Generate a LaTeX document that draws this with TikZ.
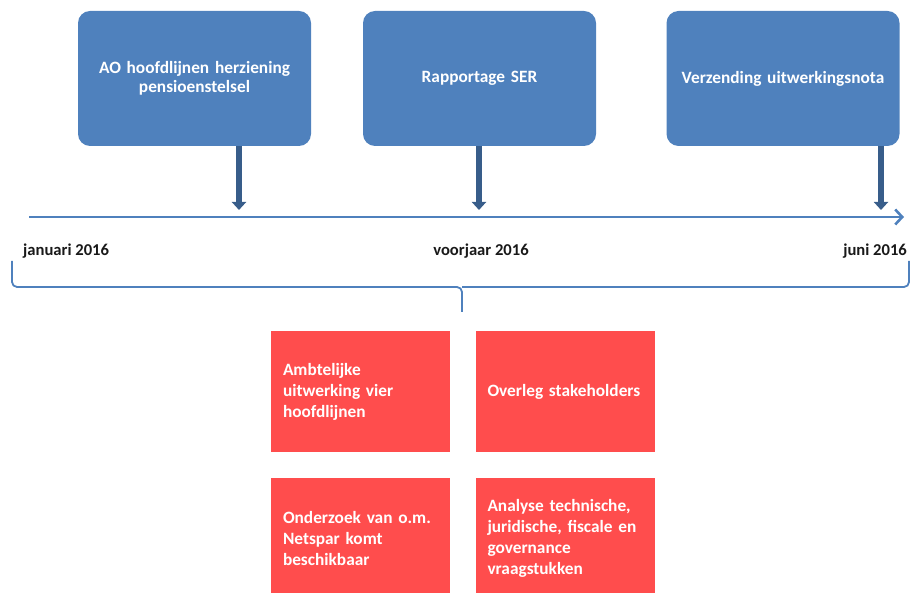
\documentclass[tikz,border=0pt]{standalone}
\usepackage{fontspec}
\setmainfont{Carlito}
\usetikzlibrary{arrows.meta}
\definecolor{blauw}{RGB}{79,129,189}
\definecolor{donkerblauw}{RGB}{56,93,138}
\definecolor{rood}{RGB}{255,77,77}
\begin{document}
\begin{tikzpicture}[x=1pt,y=-1pt,line join=round,font=\bfseries,
	mijlpaal/.style={fill=blauw,rounded corners=12pt,minimum width=233pt,minimum height=135pt,inner sep=0pt,text=white,align=center,text width=225pt,font=\fontsize{17.3}{19.5}\selectfont\bfseries},
	taak/.style={fill=rood,minimum height=121pt,inner xsep=12pt,inner ysep=0pt,text=white,align=left,text width=155pt,font=\fontsize{17.3}{21}\selectfont\bfseries},
	datum/.style={inner sep=0pt,text=black!90,font=\fontsize{16.6}{18}\selectfont\bfseries},
	pijl/.style={donkerblauw,line width=6pt,-{Triangle[width=14pt,length=8pt]}},
	tijdlijn/.style={blauw,line width=2.6pt,-{Straight Barb[width=15pt,length=7pt]}},
	accolade/.style={blauw,line width=1.8pt,rounded corners=5pt}]
	\useasboundingbox (0,0) rectangle (910,593);
	\clip (0,0) rectangle (910,593);
	\node[mijlpaal] (ao) at (194.5,78.5) {AO hoofdlijnen herziening\\pensioenstelsel};
	\node[mijlpaal] (ser) at (479.5,78.5) {Rapportage SER};
	\node[mijlpaal] (nota) at (783,78.5) {Verzending uitwerkingsnota};
	\coordinate (start) at (29,217);
	\coordinate (eind) at (904,217);
	\draw[tijdlijn] (start) -- (eind);
	\coordinate (t1) at (239,210);
	\coordinate (t2) at (479,210);
	\coordinate (t3) at (881,210);
	\draw[pijl] (ao.south -| t1) -- (t1);
	\draw[pijl] (ser.south -| t2) -- (t2);
	\draw[pijl] (nota.south -| t3) -- (t3);
	\node[datum,anchor=west] (jan) at (23,251) {januari 2016};
	\node[datum] (voorjaar) at (481,251) {voorjaar 2016};
	\node[datum,anchor=east] (juni) at (907,251) {juni 2016};
	\draw[accolade] (12,261) -- (12,287) -- (462,287) -- (462,312);
	\draw[accolade] (909,261) -- (909,287) -- (462,287);
	\node[taak] (ambt) at (360.5,391.5) {Ambtelijke\\uitwerking vier\\hoofdlijnen};
	\node[taak] (overleg) at (565,391.5) {Overleg stakeholders};
	\node[taak] (onderzoek) at (360.5,538.5) {Onderzoek van o.m.\\Netspar komt\\beschikbaar};
	\node[taak] (analyse) at (565,538.5) {Analyse technische,\\juridische, fiscale en\\governance\\vraagstukken};
\end{tikzpicture}
\end{document}
